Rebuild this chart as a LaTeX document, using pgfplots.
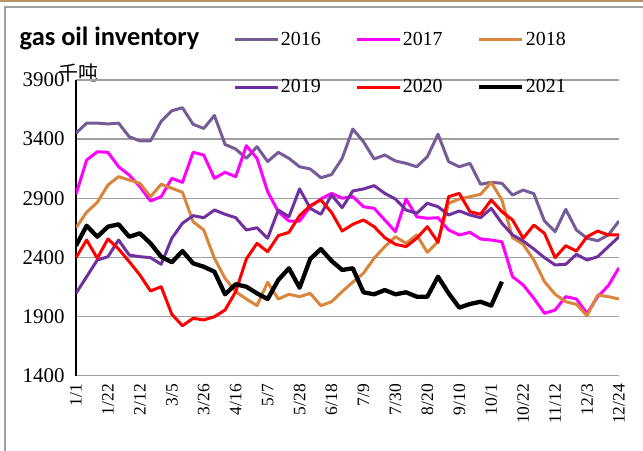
\documentclass[border=0pt]{standalone}
\usepackage{fontspec}
\setmainfont{Liberation Serif}
\newfontfamily\titlefont{Carlito}
\newfontfamily\cjk{Noto Sans CJK SC}
\usepackage{pgfplots}
\usepackage{pgfplotstable}
\pgfplotsset{compat=1.18}
\definecolor{c16}{RGB}{117,92,150}
\definecolor{c17}{RGB}{255,0,255}
\definecolor{c18}{RGB}{218,133,60}
\definecolor{c19}{RGB}{112,48,160}
\definecolor{c20}{RGB}{255,0,0}
\definecolor{c21}{RGB}{0,0,0}
\definecolor{gridgray}{RGB}{160,160,160}
\definecolor{tanline}{RGB}{180,150,100}
\pgfplotstableread{
idx a16 a17 a18 a19 a20 a21
0 3450 2933 2650 2095 2397 2498
1 3535 3223 2781 2236 2546 2667
2 3535 3293 2865 2377 2392 2574
3 3528 3288 3012 2405 2555 2659
4 3535 3166 3082 2546 2470 2679
5 3420 3096 3054 2419 2363 2574
6 3385 2997 3026 2405 2250 2603
7 3385 2876 2913 2397 2115 2518
8 3550 2913 3018 2341 2151 2405
9 3640 3068 2984 2561 1918 2358
10 3665 3034 2950 2688 1821 2453
11 3525 3288 2701 2752 1884 2349
12 3490 3265 2631 2735 1870 2320
13 3600 3068 2392 2800 1897 2278
14 3355 3119 2222 2764 1954 2087
15 3316 3082 2109 2735 2109 2172
16 3237 3344 2047 2631 2386 2151
17 3336 3237 1991 2650 2518 2095
18 3210 2955 2188 2561 2447 2047
19 3288 2786 2047 2800 2583 2208
20 3237 2707 2087 2743 2611 2307
21 3166 2707 2067 2978 2752 2143
22 3147 2828 2095 2814 2837 2386
23 3073 2893 1991 2764 2885 2470
24 3100 2941 2024 2927 2780 2370
25 3237 2900 2110 2820 2622 2293
26 3485 2913 2190 2961 2679 2307
27 3378 2828 2265 2978 2716 2104
28 3232 2814 2392 3006 2659 2087
29 3265 2716 2490 2941 2566 2123
30 3215 2617 2574 2893 2510 2087
31 3195 2893 2518 2800 2490 2104
32 3166 2743 2589 2772 2561 2067
33 3251 2730 2442 2857 2659 2067
34 3441 2735 2532 2828 2527 2236
35 3209 2631 2857 2758 2913 2095
36 3166 2589 2893 2792 2941 1974
37 3195 2611 2913 2758 2786 2005
38 3018 2555 2933 2735 2764 2024
39 3034 2546 3034 2814 2885 1991
40 3026 2532 2885 2688 2786 2194
41 2927 2236 2566 2589 2716 nan
42 2969 2166 2510 2538 2561 nan
43 2938 2053 2377 2470 2673 nan
44 2707 1926 2194 2397 2603 nan
45 2617 1954 2087 2335 2397 nan
46 2806 2067 2024 2341 2498 nan
47 2631 2047 2002 2425 2453 nan
48 2561 1926 1906 2377 2574 nan
49 2540 2067 2081 2405 2622 nan
50 2589 2160 2067 2490 2589 nan
51 2707 2312 2047 2574 2589 nan
}\datatable
\begin{document}
\begin{tikzpicture}
\path[use as bounding box] (0,0) rectangle (643bp,451bp);
\fill[white] (0,0) rectangle (643bp,451bp);
\fill[tanline] (0,449bp) rectangle (643bp,451bp);
\draw[gridgray, line width=1.5bp] (5bp,0) -- (5bp,444bp) -- (643bp,444bp);
\node[anchor=base west, inner sep=0pt] at (19.5bp,405bp) {\titlefont\bfseries\fontsize{26.5}{30}\selectfont gas oil inventory};
\node[anchor=base west, inner sep=0pt] at (58bp,370.5bp) {\cjk\fontsize{20}{22}\selectfont 千吨};
\begin{axis}[
  at={(76bp,75.5bp)}, anchor=south west,
  scale only axis, width=543bp, height=295.5bp,
  xmin=0, xmax=51, ymin=1400, ymax=3900,
  axis lines*=left,
  axis line style={-},
  x axis line style={gridgray, line width=1.3bp},
  y axis line style={black, line width=1.3bp},
  major tick length=0pt,
  ytick={1400,1900,2400,2900,3400,3900},
  yticklabels={1400,1900,2400,2900,3400,3900},
  xtick={0,3,...,51},
  xticklabels={1/1,1/22,2/12,3/5,3/26,4/16,5/7,5/28,6/18,7/9,7/30,8/20,9/10,10/1,10/22,11/12,12/3,12/24},
  xticklabel style={rotate=90, anchor=east, font=\fontsize{17.5}{20}\selectfont},
  xticklabel shift=5bp,
  yticklabel style={font=\fontsize{21}{24}\selectfont, xshift=-8bp},
  ymajorgrids, grid style={color=gridgray, line width=1.3bp},
  unbounded coords=jump,
  legend columns=3,
  legend cell align=left,
  legend style={draw=none, fill=none, at={(axis description cs:0.290,1.1675)}, anchor=north west,
    inner sep=0pt, outer sep=0pt, font=\fontsize{20}{24}\selectfont,
    row sep=30bp, /tikz/every even column/.append style={column sep=33bp},
    nodes={inner sep=1.5bp}},
  legend image code/.code={\draw[#1] (0bp,0bp) -- (43bp,0bp);},
  every axis plot/.append style={line width=3bp, line join=round, mark=none},
]
\addplot[c16] table[x=idx,y=a16] {\datatable};
\addlegendentry{2016}
\addplot[c17] table[x=idx,y=a17] {\datatable};
\addlegendentry{2017}
\addplot[c18] table[x=idx,y=a18] {\datatable};
\addlegendentry{2018}
\addplot[c19] table[x=idx,y=a19] {\datatable};
\addlegendentry{2019}
\addplot[c20] table[x=idx,y=a20] {\datatable};
\addlegendentry{2020}
\addplot[c21, line width=4.3bp] table[x=idx,y=a21] {\datatable};
\addlegendentry{2021}
\end{axis}
\end{tikzpicture}
\end{document}
